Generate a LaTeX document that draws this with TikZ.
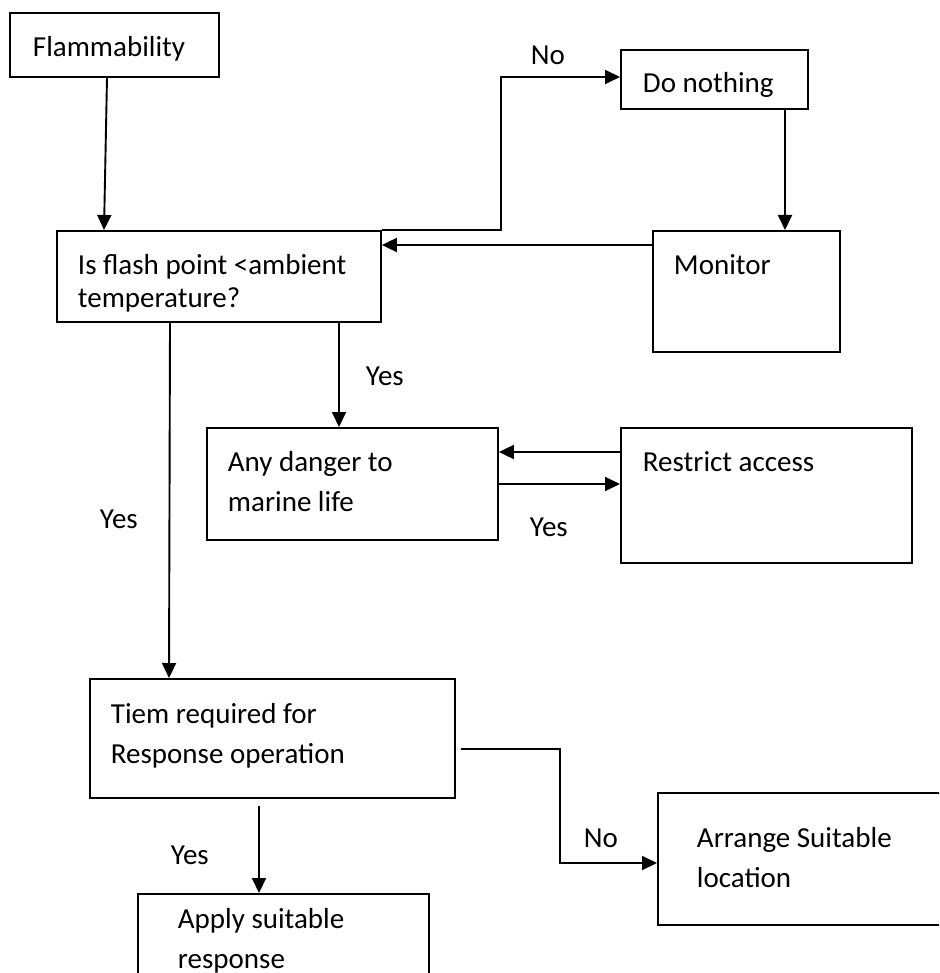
\documentclass[tikz,border=0pt]{standalone}
\usepackage{fontspec}
\setmainfont{Carlito}
\usetikzlibrary{arrows.meta}

\begin{document}
\begin{tikzpicture}[x=1pt, y=-1pt, line width=1.9pt, >={Triangle[length=15pt,width=14pt]},
	box/.style={draw, rectangle, inner sep=0pt, anchor=north west},
	txt/.style={inner sep=0pt, anchor=base west, align=left, font=\fontsize{29}{40}\selectfont},
	lbl/.style={inner sep=0pt, anchor=base west, font=\fontsize{29}{34}\selectfont}]
	\useasboundingbox (0,0) rectangle (939,973);
	\clip (0,0) rectangle (939,973);
	% boxes
	\node[box, minimum width=209pt, minimum height=64pt] (flam) at (9,12) {};
	\node[box, minimum width=324pt, minimum height=91pt] (flash) at (56,230) {};
	\node[box, minimum width=187pt, minimum height=59pt] (nothing) at (620,49) {};
	\node[box, minimum width=187pt, minimum height=121pt] (monitor) at (652,230) {};
	\node[box, minimum width=291pt, minimum height=112pt] (danger) at (206,427) {};
	\node[box, minimum width=291pt, minimum height=135pt] (restrict) at (620,427) {};
	\node[box, minimum width=365pt, minimum height=119pt] (tiem) at (89,678) {};
	\node[box, minimum width=291pt, minimum height=120pt] (apply) at (137,893) {};
	\node[box, minimum width=320pt, minimum height=132pt] (arrange) at (657,792) {};
	% texts (multi-line ones sit on their last baseline)
	\node[txt] (flam-t) at (32,57) {Flammability};
	\node[txt, font=\fontsize{29}{33}\selectfont] (flash-t) at (77,307) {Is flash point <ambient\\temperature?};
	\node[txt] (nothing-t) at (642,93) {Do nothing};
	\node[txt] (monitor-t) at (673,274) {Monitor};
	\node[txt] (danger-t) at (227,511) {Any danger to\\marine life};
	\node[txt] (restrict-t) at (642,471) {Restrict access};
	\node[txt] (tiem-t) at (110,763) {Tiem required for\\Response operation};
	\node[txt] (apply-t) at (177,968) {Apply suitable\\response};
	\node[txt] (arrange-t) at (696,887) {Arrange Suitable\\location};
	% connectors
	\draw[->] ([xshift=98pt]flam.south west) -- ([xshift=48pt]flash.north west);
	\draw[->] (flash.north east) -- ++(119,0) |- ([yshift=-28pt]nothing.north west);
	\draw[->] ([xshift=165pt]nothing.south west) -- ([xshift=133pt]monitor.north west);
	\coordinate (mon-out) at ([yshift=-15pt]monitor.north west);
	\draw[->] (mon-out) -- (mon-out -| flash.east);
	\draw[->] ([xshift=283pt]flash.south west) -- ([xshift=133pt]danger.north west);
	\draw[->] ([xshift=114pt]flash.south west) -- ([xshift=80pt]tiem.north west);
	\coordinate (res-out) at ([yshift=-25pt]restrict.north west);
	\draw[->] (res-out) -- (res-out -| danger.east);
	\coordinate (dan-out) at ([yshift=-57pt]danger.north east);
	\draw[->] (dan-out) -- (dan-out -| restrict.west);
	\draw[->] ([xshift=170pt,yshift=-7pt]tiem.south west) -- ([xshift=122pt]apply.north west);
	\coordinate (tiem-out) at ([xshift=5pt,yshift=-71pt]tiem.north east);
	\draw[->] (tiem-out) -- ++(99,0) |- ([yshift=-71pt]arrange.north west);
	% labels
	\node[lbl] (no-top) at (530,65) {No};
	\node[lbl] (yes-dan) at (365,385) {Yes};
	\node[lbl] (yes-res) at (529,536) {Yes};
	\node[lbl] (yes-tiem) at (99,528) {Yes};
	\node[lbl] (yes-apply) at (170,864) {Yes};
	\node[lbl] (no-arr) at (583,847) {No};
\end{tikzpicture}
\end{document}
